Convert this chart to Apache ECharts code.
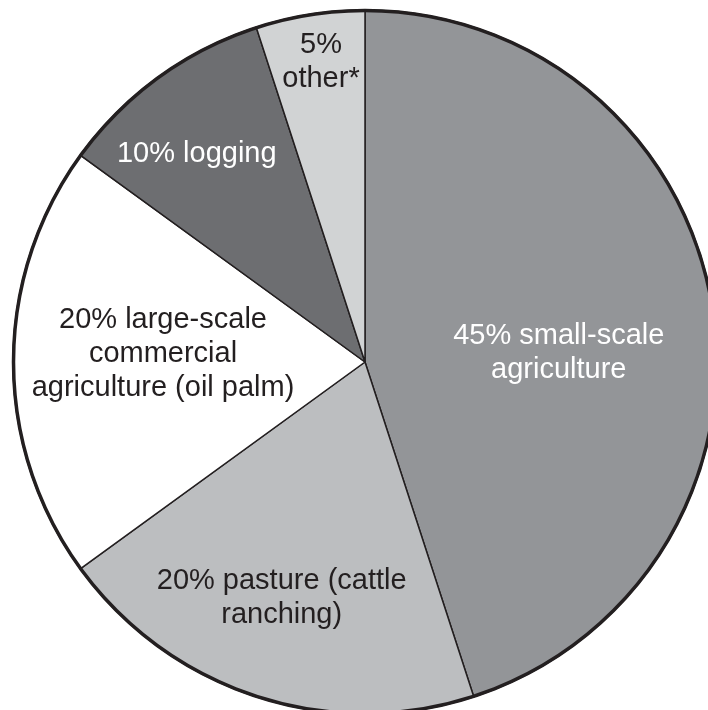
<!DOCTYPE html>
<html>
<head>
<meta charset="utf-8">
<script src="https://cdn.jsdelivr.net/npm/echarts@6/dist/echarts.min.js"></script>
<style>
html,body{margin:0;padding:0;background:#fff;}
#chart{width:708px;height:710px;}
</style>
</head>
<body>
<div id="chart"></div>
<script>
const categories = ['small-scale\nagriculture', 'pasture (cattle\nranching)', 'large-scale\ncommercial\nagriculture (oil palm)', 'logging', 'other*'];
const labelTexts = ['45% small-scale\nagriculture', '20% pasture (cattle\nranching)', '20% large-scale\ncommercial\nagriculture (oil palm)', '10% logging', '5%\nother*'];
const values = [45, 20, 20, 10, 5];

const sliceColors = ['#939598', '#bcbec0', '#ffffff', '#6d6e71', '#d1d3d4'];
const textColors = ['#ffffff', '#231f20', '#231f20', '#ffffff', '#231f20'];
const labelShift = [[17, 19], [-28, 66], [-23, -8], [-63, -63], [-16, -123]];

const chart = echarts.init(document.getElementById('chart'), null, {renderer: 'canvas'});
chart.setOption({
  animation: false,
  backgroundColor: '#ffffff',
  series: [
    {
      type: 'pie',
      center: [365, 362],
      radius: [0, 352],
      startAngle: 90,
      clockwise: true,
      silent: true,
      data: values.map((v, i) => ({
        value: v,
        name: categories[i],
        itemStyle: {color: sliceColors[i]},
        label: {color: textColors[i], formatter: labelTexts[i]}
      })),
      itemStyle: {borderColor: '#231f20', borderWidth: 1.5},
      label: {
        show: true,
        position: 'inside',
        fontFamily: 'Liberation Sans, Arial, sans-serif',
        fontSize: 29,
        lineHeight: 34,
        align: 'center'
      },
      labelLine: {show: false},
      labelLayout: function (p) {
        return {dx: labelShift[p.dataIndex][0], dy: labelShift[p.dataIndex][1]};
      }
    },
    {
      type: 'pie',
      center: [365, 362],
      radius: [351, 352],
      silent: true,
      data: [{value: 1, name: 'outline'}],
      itemStyle: {color: 'rgba(0,0,0,0)', borderColor: '#231f20', borderWidth: 2.5},
      label: {show: false},
      labelLine: {show: false}
    }
  ]
});
</script>
</body>
</html>
